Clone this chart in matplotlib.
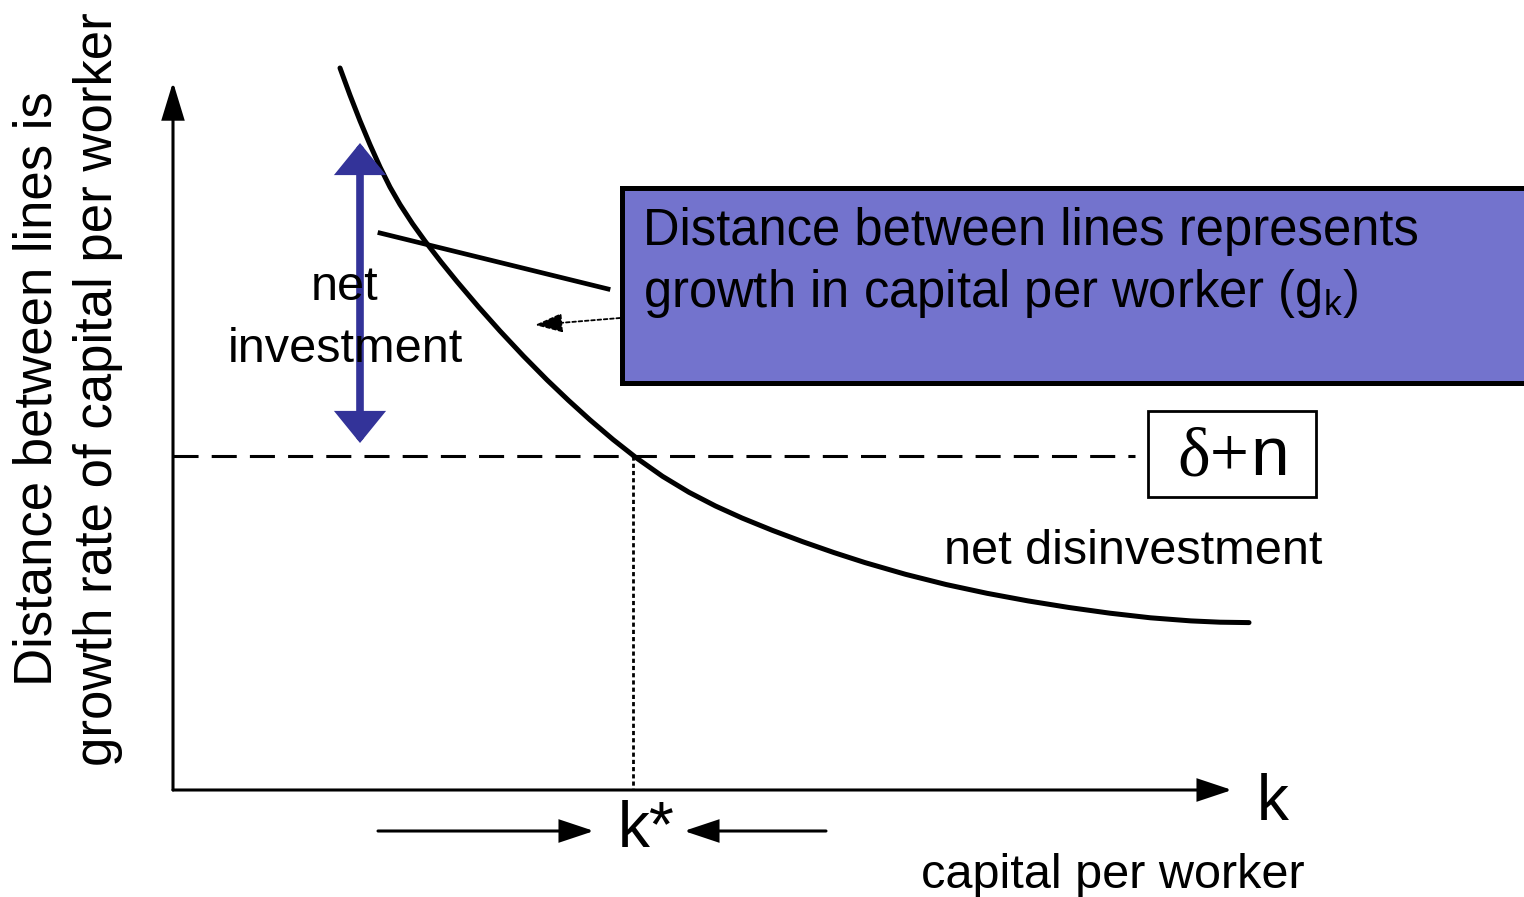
import matplotlib.pyplot as plt
from matplotlib.patches import Rectangle

plt.rcParams['font.family'] = ['Liberation Sans', 'DejaVu Sans']
plt.rcParams['mathtext.fontset'] = 'custom'
plt.rcParams['mathtext.rm'] = 'Liberation Sans'

# diagram drawn in pixel-like units (x right, y down)
curve_x = [340, 350, 360, 370, 380, 390, 400, 412.5, 425, 441, 457, 478.5,
           500, 523.5, 547, 568.5, 590, 613, 636, 662.5, 689, 715.5, 742,
           772.5, 803, 834, 865, 905.5, 946, 987, 1028, 1069, 1110, 1150.5,
           1191, 1220, 1249]
curve_y = [68, 95.2, 120.8, 144.7, 167.0, 187.1, 204.5, 223.7, 241.1, 261.9,
           281.6, 306.9, 331.0, 356.1, 379.9, 400.4, 419.9, 439.5, 457.6,
           476.3, 492.3, 506.0, 518.0, 530.4, 541.8, 552.6, 562.6, 574.3,
           584.5, 593.3, 600.9, 607.5, 613.2, 617.8, 620.9, 622.2, 622.6]

origin = (173, 790)
y_axis_top = 82
x_axis_end = 1232
k_star = 633
dn_level = 456
dashed_end = 1135

net_arrow_x = 360
net_arrow_y = (143, 443)
pointer_line = [(380, 233), (608, 289)]
box_xy = (622, 188)
box_size = (1000, 195)

fig = plt.figure(figsize=(15.24, 8.97), dpi=100)
ax = fig.add_axes([0, 0, 1, 1])
ax.set_xlim(0, 1524)
ax.set_ylim(897, 0)
ax.axis('off')

def arrow(p0, p1, lw=2.2, hl=21, hw=7, color='black', style='-|>', ls='-'):
    ax.annotate('', xy=p1, xytext=p0,
                arrowprops=dict(arrowstyle=f'{style},head_length={hl},head_width={hw}',
                                mutation_scale=1, lw=lw, color=color, ls=ls,
                                shrinkA=0, shrinkB=0, joinstyle='miter'))

# axes
arrow(origin, (origin[0], y_axis_top), lw=2.2, hl=23, hw=7)
arrow(origin, (x_axis_end, origin[1]), lw=2.2, hl=21, hw=7)

# delta+n dashed line and k* dotted drop
ax.plot([origin[0], dashed_end], [dn_level, dn_level], color='black', lw=2.2,
        dashes=(8.2, 4.3), dash_capstyle='butt')
ax.plot([k_star, k_star], [dn_level, origin[1]], color='black', lw=2.0,
        ls=(0, (1.5, 1.1)))

# saving curve
ax.plot(curve_x, curve_y, color='black', lw=3.6, solid_capstyle='round',
        solid_joinstyle='round')

# net investment arrow
arrow((net_arrow_x, net_arrow_y[0]), (net_arrow_x, net_arrow_y[1]), lw=5.5,
      hl=16, hw=13, color='#333399', style='<|-|>')

# pointer line
ax.plot([pointer_line[0][0], pointer_line[1][0]],
        [pointer_line[0][1], pointer_line[1][1]], color='black', lw=3.4)

# blue box
ax.add_patch(Rectangle(box_xy, box_size[0], box_size[1], facecolor='#7373cd',
                       edgecolor='black', lw=3.6, clip_on=True))
ax.text(643, 232, 'Distance between lines represents', fontsize=36.5,
        va='center', ha='left')
ax.text(643, 293, r'growth in capital per worker (g$_\mathregular{k}$)',
        fontsize=36.5, va='center', ha='left')

# dotted arrow from box
arrow((620, 318), (535, 325), lw=1.3, hl=17, hw=6, ls=(0, (2, 1.5)))

# labels
ax.text(345, 288, 'net', fontsize=35, ha='center', va='center')
ax.text(345, 350, 'investment', fontsize=35, ha='center', va='center')
ax.text(1133, 551, 'net disinvestment', fontsize=35, ha='center', va='center')

ax.add_patch(Rectangle((1148, 411), 168, 86, facecolor='white',
                       edgecolor='black', lw=2))
ax.text(1249, 475, 'δ+', fontsize=50, ha='right', va='baseline',
        family='Liberation Serif')
ax.text(1250, 475, 'n', fontsize=50, ha='left', va='baseline')

# y label
ax.text(38, 389, 'Distance between lines is', fontsize=38, rotation=90,
        ha='center', va='center')
ax.text(98, 389, 'growth rate of capital per worker', fontsize=38, rotation=90,
        ha='center', va='center')

# x labels
ax.text(1273, 803, 'k', fontsize=46, ha='center', va='center')
ax.text(1113, 876, 'capital per worker', fontsize=35, ha='center', va='center')
ax.text(646, 830, 'k*', fontsize=46, ha='center', va='center')
arrow((378, 831), (594, 831), lw=2.2, hl=21, hw=7)
arrow((826, 831), (684, 831), lw=2.2, hl=21, hw=7)

fig.savefig('out.png', dpi=100)
